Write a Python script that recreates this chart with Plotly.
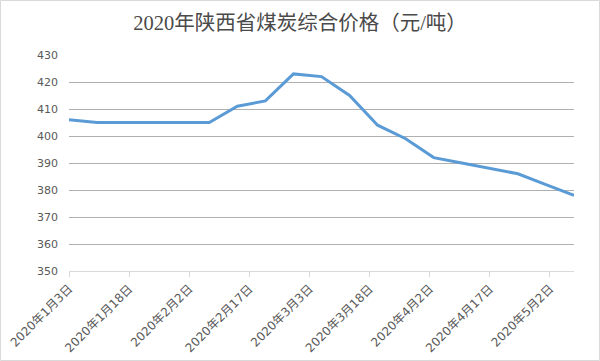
import plotly.graph_objects as go
import datetime as dt

dates = ["2020-01-03", "2020-01-10", "2020-01-17", "2020-01-24", "2020-01-31",
         "2020-02-07", "2020-02-14", "2020-02-21", "2020-02-28", "2020-03-06",
         "2020-03-13", "2020-03-20", "2020-03-27", "2020-04-03", "2020-04-10",
         "2020-04-17", "2020-04-24", "2020-05-01", "2020-05-08"]
prices = [406, 405, 405, 405, 405, 405, 411, 413, 423, 422,
          415, 404, 399, 392, 390, 388, 386, 382, 378]

tick_dates = ["2020-01-03", "2020-01-18", "2020-02-02", "2020-02-17", "2020-03-03",
              "2020-03-18", "2020-04-02", "2020-04-17", "2020-05-02"]
tick_text = []
for d in tick_dates:
    t = dt.date.fromisoformat(d)
    tick_text.append(f"{t.year}年{t.month}月{t.day}日")

title_text = "2020年陕西省煤炭综合价格（元/吨）"

L, R, T, B = 69, 26, 55, 90
W, H = 600, 361
pw, ph = W - L - R, H - T - B

fig = go.Figure()
fig.add_trace(go.Scatter(x=dates, y=prices, mode="lines",
                         line=dict(color="#5B9BD5", width=3), hoverinfo="x+y"))

fig.update_layout(
    width=W, height=H,
    margin=dict(l=L, r=R, t=T, b=B, autoexpand=False),
    paper_bgcolor="white", plot_bgcolor="white",
    showlegend=False,
    title=dict(text=title_text, x=0.5, xanchor="center", y=1 - 23 / H, yanchor="middle",
               font=dict(family="Liberation Serif, Noto Sans CJK SC", size=20.5, color="#4a4a4a")),
    xaxis=dict(type="date", range=[dates[0], dates[-1]],
               tickvals=tick_dates, ticktext=tick_text, tickangle=-45,
               tickfont=dict(family="DejaVu Sans, Noto Sans CJK SC", size=12, color="#595959"),
               showgrid=False, showline=True, linecolor="#d9d9d9", linewidth=1,
               ticks="outside", ticklen=5, tickcolor="#d9d9d9", zeroline=False,
               automargin=False),
    yaxis=dict(range=[350, 430], dtick=10, tick0=350,
               tickfont=dict(family="DejaVu Sans", size=11, color="#595959"),
               showgrid=True, gridcolor="#b0b0b0", gridwidth=1,
               zeroline=False, showline=False, ticks="", ticklabelstandoff=10,
               automargin=False),
)

# chart-area border
fig.add_shape(type="rect", xref="paper", yref="paper",
              x0=(0.5 - L) / pw, x1=(W - 0.5 - L) / pw,
              y0=-(B - 0.5) / ph, y1=(ph + T - 0.5) / ph,
              line=dict(color="#d9d9d9", width=1), fillcolor="rgba(0,0,0,0)", layer="below")

fig.write_html("out.html", config={"displayModeBar": False},
               post_script="document.body.style.margin='0';")
